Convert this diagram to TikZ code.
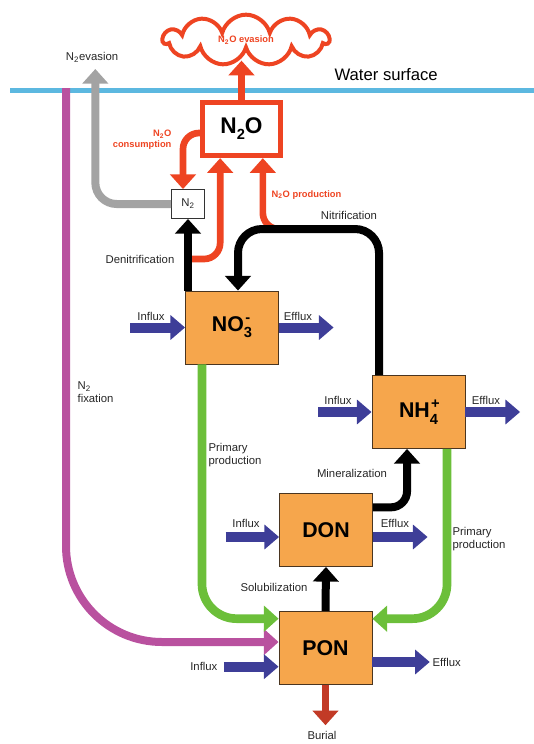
\documentclass[tikz,border=0pt]{standalone}
\usepackage{fontspec}
\setmainfont{Liberation Sans}
\usepackage{xcolor}
\usepackage{tikz}
\usetikzlibrary{arrows.meta}
\usetikzlibrary{positioning}
\usetikzlibrary{shapes.symbols}

\definecolor{poolorange}{HTML}{F6A64C}
\definecolor{poolborder}{HTML}{4A3520}
\definecolor{nored}{HTML}{EE4422}
\definecolor{burialred}{HTML}{C23A26}
\definecolor{ppgreen}{HTML}{6CBF3A}
\definecolor{fixpink}{HTML}{B9519F}
\definecolor{evagray}{HTML}{A3A3A3}
\definecolor{fluxblue}{HTML}{3E3E98}
\definecolor{waterblue}{HTML}{5CB8E0}

\newcommand{\subsupchem}[2]{\rlap{\kern1pt\raisebox{0.85ex}{\fontsize{11}{11}\selectfont #2}}\raisebox{-0.55ex}{\fontsize{11}{11}\selectfont #1}}

\tikzset{
    pool/.style = {rectangle, draw=poolborder, fill=poolorange, thin, inner sep=0pt, minimum width=70pt, minimum height=55pt, font=\fontsize{16}{18}\selectfont\bfseries},
    lbl/.style = {inner sep=1pt, text=black!85, align=left, font=\fontsize{8.5}{10}\selectfont},
    redlbl/.style = {inner sep=1pt, text=nored, align=center, font=\fontsize{7}{8}\selectfont\bfseries},
    flow/.style = {line width=6pt, rounded corners=12pt, -{Triangle[width=19pt,length=11pt]}},
    blackflow/.style = {flow, draw=black},
    redflow/.style = {flow, draw=nored, line width=5pt},
    greenflow/.style = {flow, draw=ppgreen, line width=6.5pt, rounded corners=26pt},
    flux/.style = {line width=7.5pt, draw=fluxblue, -{Triangle[width=18pt,length=11pt]}}
}

\begin{document}
\begin{tikzpicture}[x=0.75pt, y=-0.75pt]
    \useasboundingbox (0,0) rectangle (534,744);

    % water surface
    \coordinate (wleft) at (10,90);
    \coordinate (wright) at (534,90);
    \draw[waterblue, line width=3.75pt] (wleft) -- (wright);
    \node[lbl, text=black, anchor=west, font=\fontsize{12.5}{14}\selectfont] (surface) at (333,75) {Water surface};

    % pools
    \node[cloud, draw=nored, line width=3pt, cloud puffs=11, aspect=3, minimum width=124pt, minimum height=38pt, redlbl] (n2oeva) at (246,40) {N\textsubscript{2}O evasion};
    \node[rectangle, draw=nored, line width=3.75pt, minimum width=58pt, minimum height=40pt, font=\fontsize{17}{18}\selectfont\bfseries] (n2o) at (241.5,129) {N\raisebox{-0.5ex}{\fontsize{11}{11}\selectfont 2}O};
    \node[rectangle, draw=black!80, thin, fill=white, minimum width=25pt, minimum height=22pt, lbl] (n2) at (188,204) {N\textsubscript{2}};
    \node[pool] (no3) at (232,327.5) {NO\subsupchem{3}{-}};
    \node[pool] (nh4) at (418.5,412) {NH\subsupchem{4}{+}};
    \node[pool] (don) at (326,530) {DON};
    \node[pool] (pon) at (325.5,648) {PON};

    % labels
    \node[lbl] (n2evalbl) at (92,57) {N\textsubscript{2}evasion};
    \node[redlbl, align=right, anchor=east] (conslbl) at (173,140) {N\textsubscript{2}O\\consumption};
    \node[redlbl, anchor=west] (prodlbl) at (270,195) {N\textsubscript{2}O production};
    \node[lbl] (nitrlbl) at (349,215) {Nitrification};
    \node[lbl] (denitrlbl) at (140,259) {Denitrification};
    \node[lbl, anchor=west] (fixlbl) at (76,392) {N\textsubscript{2}\\fixation};
    \node[lbl, anchor=west] (ppleft) at (207,455) {Primary\\production};
    \node[lbl, anchor=west] (ppright) at (451,539) {Primary\\production};
    \node[lbl] (minlbl) at (352,473) {Mineralization};
    \node[lbl] (sollbl) at (274,587) {Solubilization};
    \node[lbl] (burlbl) at (322,735) {Burial};

    % N2 fixation
    \coordinate (fixtop) at (66,88);
    \draw[flow, draw=fixpink, rounded corners=72pt] (fixtop) |- ([yshift=4.5pt]pon.west);

    % N2 and N2O fluxes
    \draw[flow, draw=evagray, rounded corners=16pt, shorten >=4pt] (n2.west) -| ([xshift=2.5pt]n2evalbl.south);
    \draw[redflow, shorten >=6pt] (n2o.north) -- (n2o.north |- n2oeva.south);
    \draw[redflow] ([yshift=-3pt]n2o.west) -| ([xshift=-3.75pt]n2.north);
    \coordinate (denbranch) at (190,259);
    \coordinate (nitrtop) at (300,229);
    \draw[redflow] (denbranch) -| ([xshift=-16pt]n2o.south);
    \draw[redflow] (nitrtop) -| ([xshift=16pt]n2o.south);

    % nitrogen cycle
    \draw[blackflow] (n2.south |- no3.north) -- (n2.south);
    \draw[blackflow, rounded corners=18pt] ([xshift=-29.6pt]nh4.north) |- (nitrtop) -| ([xshift=4.5pt]no3.north);
    \draw[blackflow] ([yshift=17pt]don.east) -| ([xshift=-8.6pt]nh4.south);
    \draw[blackflow] (pon.north) -- (don.south);
    \draw[greenflow] ([xshift=-22.5pt]no3.south) |- ([yshift=22pt]pon.west);
    \draw[greenflow] ([xshift=21.4pt]nh4.south) |- ([yshift=22pt]pon.east);
    \draw[flow, draw=burialred, line width=5pt, shorten >=3pt] (pon.south) -- (pon.south |- burlbl.north);

    % influx and efflux
    \coordinate[left=41pt of no3.west] (no3in);
    \coordinate[right=41pt of no3.east] (no3out);
    \coordinate[left=40pt of nh4.west] (nh4in);
    \coordinate[right=41pt of nh4.east] (nh4out);
    \coordinate[left=40pt of don.west, yshift=-5.25pt] (donin);
    \coordinate[right=41pt of don.east, yshift=-5.25pt] (donout);
    \coordinate[left=41pt of pon.west, yshift=-14pt] (ponin);
    \coordinate[right=43pt of pon.east, yshift=-10.5pt] (ponout);
    \draw[flux] (no3in) -- (no3.west);
    \draw[flux] (no3.east) -- (no3out);
    \draw[flux] (nh4in) -- (nh4.west);
    \draw[flux] (nh4.east) -- (nh4out);
    \draw[flux] (donin) -- ([yshift=-5.25pt]don.west);
    \draw[flux] ([yshift=-5.25pt]don.east) -- (donout);
    \draw[flux] (ponin) -- ([yshift=-14pt]pon.west);
    \draw[flux] ([yshift=-10.5pt]pon.east) -- (ponout);
    \node[lbl] (no3inlbl) at (151,316) {Influx};
    \node[lbl] (no3outlbl) at (298,316) {Efflux};
    \node[lbl] (nh4inlbl) at (338,400) {Influx};
    \node[lbl] (nh4outlbl) at (486,400) {Efflux};
    \node[lbl] (doninlbl) at (246,523) {Influx};
    \node[lbl] (donoutlbl) at (395,523) {Efflux};
    \node[lbl, anchor=east] (poninlbl) at (219,666) {Influx};
    \node[lbl, anchor=west] (ponoutlbl) at (431,662) {Efflux};
\end{tikzpicture}
\end{document}
